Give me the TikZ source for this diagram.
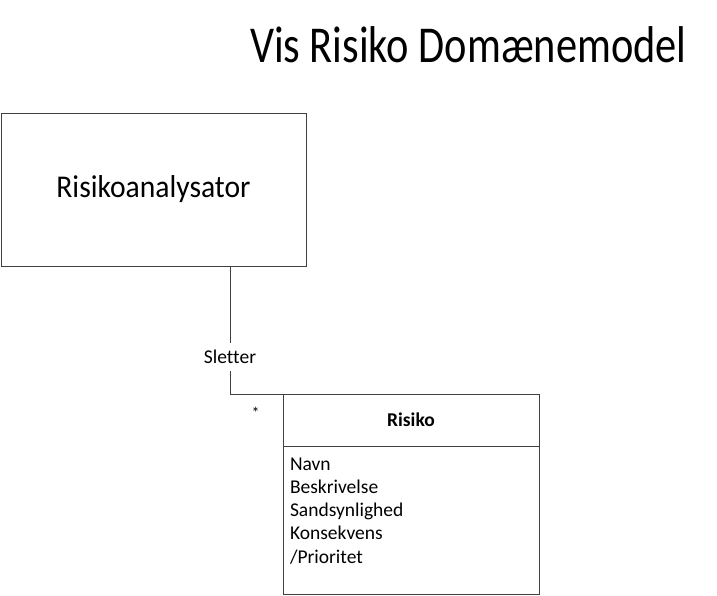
\documentclass[tikz,border=0pt]{standalone}
\usepackage{fontspec}
\setmainfont{Carlito}[Ligatures=NoCommon]
\usepackage{graphicx}
\usetikzlibrary{positioning}

\begin{document}
\begin{tikzpicture}[x=1pt, y=-1pt,
    every node/.style={inner sep=0pt, outer sep=0pt},
    box/.style={draw=black!75, line width=1pt, rectangle},
    line/.style={draw=black!75, line width=1pt}]

        \useasboundingbox (0,0) rectangle (717,595);

        % Title
        \node (title) at (250,62) [anchor=base west] {\scalebox{1}[1.22]{\fontsize{42.4}{50}\selectfont Vis Risiko Domænemodel}};

        % Classes
        \node (analysator) at (153.5,189.5) [box, minimum width=305pt, minimum height=153pt] {\scalebox{1}[1.07]{\fontsize{29.6}{36}\selectfont Risikoanalysator}};
        \node (risikohead) at (283,394) [box, anchor=north west, minimum width=256pt, minimum height=52pt] {\fontsize{19.5}{23.4}\selectfont\bfseries Risiko};
        \node (risikobody) [box, below=0pt of risikohead, minimum width=256pt, minimum height=148pt] {};

        % Attributes
        \foreach \attr [count=\i from 0] in {Navn, Beskrivelse, Sandsynlighed, Konsekvens, /Prioritet}
            \node (attr\i) at (290,470+23.3*\i) [anchor=base west] {\fontsize{19.5}{23.4}\selectfont \attr};

        % Association
        \coordinate (bend) at (230,394);
        \draw[line] (analysator.south -| bend) -- (bend) -- (risikohead.north west);
        \node (sletter) at (230,357) [fill=white, inner ysep=7pt, inner xsep=1pt] {\fontsize{19.5}{23.4}\selectfont Sletter};
        \node (mult) at (255.5,413) {\fontsize{16}{18}\selectfont *};

    \end{tikzpicture}
\end{document}
